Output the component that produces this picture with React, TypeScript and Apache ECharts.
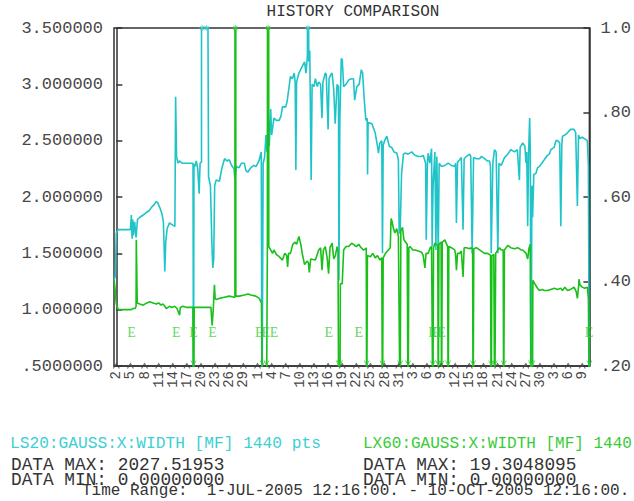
import React, { useEffect, useRef } from "react";
import * as echarts from "echarts";

// x values: days since 2-JUL-2005 00:00 (first tick). Range 1-JUL-2005 12:16 .. 10-OCT-2005 12:16
const X_START = -0.489;
const X_END = 100.511;

const tickDays = [0, 3, 6, 9, 12, 15, 18, 21, 24, 27, 30, 33, 36, 39, 42, 45, 48, 51, 54, 57, 60, 63, 66, 69, 72, 75, 78, 81, 84, 87, 90, 93, 96, 99];

const leftTicks = [0.5, 1.0, 1.5, 2.0, 2.5, 3.0, 3.5];
const rightTicks = [0.2, 0.4, 0.6, 0.8, 1.0];

const ls20: [number, number][] = [
  [-0.45, 1.26], [-0.2, 1.3], [0.0, 1.68], [0.4, 1.71], [1.5, 1.71], [3.0, 1.71], [3.2, 1.84], [3.35, 1.63], [3.5, 1.8], [3.65, 1.66], [3.9, 1.78], [4.2, 1.64], [4.5, 1.8], [5.0, 1.82], [5.7, 1.84], [6.3, 1.86], [7.0, 1.88], [7.5, 1.91], [8.0, 1.93], [8.5, 1.96], [8.8, 1.95], [9.3, 1.9], [9.7, 1.85], [10.0, 1.78], [10.2, 1.5], [10.3, 1.34], [10.5, 1.6], [10.8, 1.72], [11.3, 1.77], [12.0, 1.75], [12.45, 1.74], [12.6, 2.89], [12.8, 2.36], [13.1, 2.3], [13.4, 2.32], [14.0, 2.3], [15.0, 2.3], [16.0, 2.3], [16.3, 2.3], [16.4, 0], [16.5, 2.29], [16.7, 2.27], [17.0, 2.32], [17.3, 2.25], [17.6, 2.03], [17.8, 2.3], [18.1, 2.31], [18.25, 2027.52], [19.2, 6.4], [19.6, 2.18], [20.0, 2.1], [20.3, 1.6], [20.5, 1.37], [20.7, 1.45], [20.9, 2.1], [21.2, 2.15], [21.9, 2.14], [22.4, 2.25], [23.0, 2.34], [23.5, 2.32], [24.0, 2.33], [24.5, 2.28], [25.0, 2.25], [25.2, 2.16], [25.5, 2.27], [26.1, 2.26], [26.6, 2.3], [27.2, 2.3], [27.5, 2.24], [27.9, 2.22], [28.6, 2.26], [29.2, 2.28], [29.7, 2.27], [30.3, 2.32], [30.8, 2.4], [30.95, 0], [31.2, 2.3], [31.5, 2.35], [31.8, 2.55], [32.0, 2.4], [32.3, 2.7], [32.5, 2.45], [32.8, 2.78], [33.0, 2.55], [33.5, 2.7], [34.0, 2.68], [34.6, 2.68], [35.0, 2.72], [35.3, 2.8], [36.0, 2.8], [36.3, 2.85], [37.0, 3.07], [37.4, 3.05], [37.8, 3.1], [38.0, 3.02], [38.15, 2.24], [38.3, 3.02], [38.8, 3.1], [39.5, 3.16], [40.0, 3.2], [40.3, 3.1], [40.6, 3.25], [40.7, 4.8], [40.9, 3.2], [41.1, 3.3], [41.4, 2.15], [41.6, 3.0], [42.0, 2.98], [42.3, 3.05], [42.7, 2.98], [43.0, 3.02], [43.4, 3.0], [43.7, 2.7], [43.9, 3.02], [44.4, 3.1], [44.6, 3.09], [45.0, 2.6], [45.2, 3.05], [45.5, 3.08], [45.85, 3.1], [46.2, 2.95], [46.5, 2.65], [46.9, 3.0], [47.2, 2.98], [47.3, 1.26], [47.5, 2.7], [47.8, 3.23], [48.0, 3.22], [48.3, 2.98], [48.8, 3.0], [49.4, 3.04], [50.0, 3.05], [50.4, 3.05], [50.64, 2.86], [51.1, 2.98], [51.6, 3.0], [52.05, 3.13], [52.33, 3.1], [52.7, 2.85], [53.03, 2.68], [53.3, 2.7], [53.38, 2.2], [53.5, 2.66], [54.3, 2.65], [55.0, 2.57], [55.5, 2.45], [55.7, 2.39], [56.0, 2.48], [56.4, 2.5], [56.55, 1.5], [56.7, 2.46], [57.0, 2.5], [57.47, 2.54], [58.0, 2.45], [58.5, 2.44], [59.0, 2.4], [59.58, 2.39], [59.93, 2.33], [60.1, 1.68], [60.3, 1.68], [60.6, 2.2], [61.0, 2.38], [61.34, 2.39], [62.0, 2.38], [62.75, 2.4], [63.45, 2.37], [64.16, 2.36], [64.86, 2.36], [65.2, 2.37], [65.5, 2.33], [65.71, 2.3], [65.85, 1.62], [66.1, 2.3], [66.27, 2.39], [66.6, 2.3], [66.98, 2.43], [67.1, 1.56], [67.3, 2.1], [67.68, 2.4], [67.9, 1.53], [68.1, 2.36], [68.4, 1.5], [68.6, 2.3], [69.09, 2.27], [69.8, 2.28], [70.5, 2.3], [71.2, 2.28], [71.9, 2.27], [72.1, 2.3], [72.26, 1.77], [72.5, 2.31], [72.96, 2.33], [73.3, 2.35], [73.67, 1.71], [73.9, 2.34], [74.37, 2.36], [75.07, 2.38], [75.3, 2.36], [75.6, 1.5], [75.9, 2.35], [76.48, 2.34], [77.19, 2.34], [77.54, 2.36], [78.24, 2.34], [78.8, 2.32], [79.3, 2.32], [79.5, 2.27], [79.65, 1.5], [80.0, 2.3], [80.35, 2.42], [80.7, 2.4], [81.06, 1.5], [81.3, 2.3], [81.77, 2.28], [82.47, 2.35], [83.17, 2.38], [83.8, 2.42], [84.58, 2.4], [85.2, 2.42], [85.64, 2.15], [85.8, 2.44], [86.34, 2.48], [86.8, 2.45], [87.05, 2.3], [87.2, 2.4], [87.4, 1.74], [87.6, 2.4], [87.82, 2.7], [87.96, 2.4], [88.1, 0], [88.3, 2.1], [88.45, 1.82], [88.7, 2.2], [89.16, 2.21], [89.5, 2.26], [89.86, 2.27], [90.4, 2.3], [90.92, 2.33], [91.6, 2.37], [92.0, 2.38], [92.33, 2.42], [93.03, 2.44], [93.4, 2.5], [93.74, 2.5], [94.2, 2.48], [94.44, 1.74], [94.65, 2.46], [94.8, 2.54], [95.3, 2.55], [95.85, 2.57], [96.5, 2.6], [97.26, 2.6], [97.6, 2.57], [97.96, 1.92], [98.2, 2.55], [98.45, 2.52], [99.0, 2.53], [99.37, 2.52], [100.07, 2.5], [100.3, 2.28], [100.5, 0],
];

const lx60: [number, number][] = [
  [-0.45, 1.26], [-0.3, 1.2], [0.0, 1.05], [0.43, 1.0], [1.5, 1.0], [2.5, 1.0], [3.2, 1.0], [3.5, 1.01], [4.0, 1.01], [4.2, 1.03], [4.25, 1.62], [4.4, 1.62], [4.45, 1.06], [5.0, 1.05], [5.7, 1.04], [6.5, 1.06], [7.1, 1.07], [7.8, 1.06], [8.5, 1.05], [9.0, 1.06], [9.5, 1.04], [9.9, 1.05], [10.3, 1.03], [10.6, 1.01], [11.3, 1.03], [11.8, 1.02], [12.4, 1.03], [12.9, 1.01], [13.45, 0.95], [13.6, 1.02], [14.16, 1.03], [15.0, 1.02], [16.0, 1.02], [16.27, 1.02], [16.4, 0], [16.55, 1.02], [17.5, 1.02], [18.5, 1.02], [19.5, 1.02], [20.1, 1.02], [20.36, 0.86], [20.6, 1.0], [20.85, 1.22], [21.0, 1.1], [21.2, 1.09], [21.9, 1.1], [22.96, 1.11], [24.02, 1.12], [25.0, 1.11], [25.2, 1.11], [25.29, 19.3048], [25.4, 1.12], [26.13, 1.12], [27.19, 1.13], [28.0, 1.14], [28.6, 1.13], [29.65, 1.12], [30.36, 1.1], [30.85, 1.06], [31.1, 0], [31.9, 0], [32.1, 1.6], [32.25, 18.5], [32.4, 1.56], [32.8, 1.53], [33.2, 1.5], [33.5, 1.53], [34.0, 1.49], [34.6, 1.47], [35.3, 1.44], [35.8, 1.5], [36.2, 1.48], [36.4, 1.38], [36.6, 1.5], [37.0, 1.5], [37.5, 1.58], [38.0, 1.6], [38.3, 1.58], [38.8, 1.65], [39.2, 1.58], [39.5, 1.5], [40.0, 1.4], [40.5, 1.43], [40.8, 1.42], [41.0, 1.33], [41.3, 1.45], [42.3, 1.44], [43.0, 1.53], [43.4, 1.55], [43.7, 1.35], [44.0, 1.53], [44.4, 1.56], [44.8, 1.46], [45.1, 1.32], [45.4, 1.55], [45.85, 1.59], [46.2, 1.45], [46.55, 1.48], [46.9, 1.56], [47.1, 1.52], [47.26, 0], [47.5, 0], [47.6, 1.23], [48.0, 1.23], [48.3, 1.53], [48.8, 1.56], [49.37, 1.56], [50.0, 1.59], [50.4, 1.58], [51.0, 1.56], [51.5, 1.58], [52.0, 1.55], [52.5, 1.53], [53.0, 1.54], [53.1, 1.55], [53.2, 0], [53.35, 1.48], [54.0, 1.47], [54.5, 1.5], [55.0, 1.46], [55.5, 1.48], [56.0, 1.44], [56.4, 1.46], [56.55, 0], [56.7, 1.46], [57.2, 1.5], [57.8, 1.53], [58.2, 1.55], [58.38, 1.81], [58.6, 1.78], [58.88, 1.72], [59.2, 1.68], [59.58, 1.72], [59.93, 1.65], [60.3, 0], [60.45, 1.7], [60.8, 1.73], [61.1, 1.62], [61.8, 1.58], [62.0, 0], [62.15, 1.55], [62.4, 1.56], [63.0, 1.53], [63.45, 1.53], [64.16, 1.52], [64.86, 1.51], [65.2, 1.48], [65.57, 1.37], [65.8, 1.5], [66.27, 1.5], [66.7, 1.55], [66.98, 1.56], [67.25, 0], [67.4, 1.55], [67.68, 1.59], [68.3, 1.57], [68.4, 0], [68.55, 1.58], [69.0, 1.6], [69.1, 0], [69.25, 1.6], [69.8, 1.62], [70.2, 1.58], [70.4, 1.56], [70.5, 0], [70.65, 1.56], [71.2, 1.55], [71.9, 1.53], [72.1, 1.48], [72.26, 1.35], [72.5, 1.5], [72.96, 1.5], [73.3, 1.52], [73.67, 1.29], [73.9, 1.55], [74.37, 1.55], [75.07, 1.54], [75.3, 1.55], [75.7, 1.54], [75.8, 0], [75.95, 1.54], [76.5, 1.55], [77.19, 1.53], [77.54, 1.52], [78.24, 1.5], [78.8, 1.5], [79.3, 1.49], [79.5, 1.48], [79.65, 0], [79.8, 1.48], [80.2, 1.49], [80.4, 0], [80.6, 1.5], [81.06, 1.53], [81.4, 1.55], [81.77, 1.53], [82.2, 1.53], [82.3, 0], [82.45, 1.53], [83.17, 1.57], [83.8, 1.55], [84.58, 1.54], [85.3, 1.55], [86.0, 1.53], [86.34, 1.53], [87.05, 1.5], [87.4, 1.45], [87.7, 1.55], [87.96, 1.58], [88.1, 0], [88.4, 0], [88.5, 1.26], [88.9, 1.23], [89.5, 1.19], [89.86, 1.17], [90.5, 1.18], [90.92, 1.17], [91.6, 1.17], [92.3, 1.18], [93.03, 1.19], [93.74, 1.18], [94.4, 1.19], [94.8, 1.17], [95.3, 1.2], [95.85, 1.17], [96.5, 1.18], [97.26, 1.2], [97.7, 1.16], [97.96, 1.1], [98.2, 1.2], [98.31, 1.27], [98.5, 1.22], [99.0, 1.2], [99.5, 1.19], [100.07, 1.2], [100.3, 1.1], [100.5, 0],
];

// event ("E") markers: days, drawn at level 0.8 of the left axis
const eventDays = [3.25, 12.76, 16.41, 20.45, 30.4, 31.77, 33.53, 45.15, 51.49, 67.19, 68.03, 69.08, 100.45];
const EVENT_LEVEL = 0.8;

const Y_MIN = 0.5;
const Y_MAX = 3.5;

const CYAN = "#1fc4c9";
const GREEN = "#19c019";
const CYAN_TEXT = "#3ccfd4";
const GREEN_TEXT = "#38cc38";
const AXIS = "#333333";
const LABEL = "#474747";
const MONO = '"Liberation Mono", "DejaVu Sans Mono", monospace';
const SERIF = '"Liberation Serif", "DejaVu Serif", serif';

function dayLabel(v: number): string {
  const d = new Date(Date.UTC(2005, 6, 2) + Math.round(v) * 86400000);
  return String(d.getUTCDate());
}

function leftLabel(v: number): string {
  if (Math.abs(v - 0.5) < 1e-9) return ".5000000";
  return v.toFixed(6);
}

function rightLabel(v: number): string {
  const n = Math.round(v * 100);
  if (n === 100) return "1.0";
  return "." + String(n);
}

const ASTERISK = "path://M5,0L5,10M0,5L10,5M1.5,1.5L8.5,8.5M8.5,1.5L1.5,8.5";
const CHEVRON_UP = "path://M0,10L5,0L10,10";
const ARROW_DOWN = "path://M0,0L5,10L10,0";

export default function App() {
  const ref = useRef<HTMLDivElement>(null);
  useEffect(() => {
    if (!ref.current) return;
    const chart = echarts.init(ref.current, undefined, { renderer: "svg" });

    const over = (d: [number, number][]) => d.filter((p) => p[1] > Y_MAX).map((p) => [p[0], Y_MAX]);
    const under = (d: [number, number][]) => d.filter((p) => p[1] < Y_MIN).map((p) => [p[0], Y_MIN]);

    const axisLineStyle = { color: AXIS, width: 1.5 };

    chart.setOption({
      animation: false,
      backgroundColor: "#ffffff",
      grid: { left: 114, top: 28, right: 42, bottom: 135, show: true, borderColor: AXIS, borderWidth: 1.5, backgroundColor: "transparent" },
      xAxis: {
        type: "value",
        min: X_START,
        max: X_END,
        axisLine: { show: true, lineStyle: axisLineStyle },
        axisTick: { show: false },
        splitLine: { show: false },
        axisLabel: {
          customValues: tickDays,
          rotate: 90,
          margin: 5,
          fontFamily: MONO,
          fontSize: 14,
          color: LABEL,
          formatter: (v: number) => dayLabel(v),
        },
      },
      yAxis: [
        {
          type: "value",
          min: leftTicks[0],
          max: leftTicks[leftTicks.length - 1],
          interval: 0.5,
          axisLine: { show: true, lineStyle: axisLineStyle },
          axisTick: { show: true, inside: true, length: 6, lineStyle: axisLineStyle },
          splitLine: { show: false },
          axisLabel: { margin: 11, fontFamily: MONO, fontSize: 17, color: LABEL, formatter: leftLabel },
        },
        {
          type: "value",
          position: "right",
          min: rightTicks[0],
          max: rightTicks[rightTicks.length - 1],
          interval: 0.2,
          axisLine: { show: true, lineStyle: axisLineStyle },
          axisTick: { show: true, inside: true, length: 6, lineStyle: axisLineStyle },
          splitLine: { show: false },
          axisLabel: { margin: 11, fontFamily: MONO, fontSize: 17, color: LABEL, formatter: rightLabel },
        },
      ],
      series: [
        {
          name: "LS20",
          type: "line",
          data: ls20,
          showSymbol: false,
          clip: true,
          lineStyle: { color: CYAN, width: 1.6 },
          z: 2,
        },
        {
          name: "LX60",
          type: "line",
          data: lx60,
          showSymbol: false,
          clip: true,
          lineStyle: { color: GREEN, width: 1.6 },
          z: 3,
        },
        {
          type: "scatter",
          data: over(ls20),
          symbol: ASTERISK,
          symbolSize: 6,
          itemStyle: { color: "transparent", borderColor: CYAN_TEXT, borderWidth: 1 },
          clip: false,
          z: 4,
        },
        {
          type: "scatter",
          data: over(lx60),
          symbol: ASTERISK,
          symbolSize: 6,
          itemStyle: { color: "transparent", borderColor: GREEN_TEXT, borderWidth: 1 },
          clip: false,
          z: 4,
        },
        {
          type: "scatter",
          data: under(lx60),
          symbol: ARROW_DOWN,
          symbolSize: [5, 5],
          symbolOffset: [0, -3],
          itemStyle: { color: "transparent", borderColor: GREEN_TEXT, borderWidth: 1 },
          clip: false,
          z: 4,
        },
        {
          type: "scatter",
          data: tickDays.map((t) => [t, Y_MIN]),
          symbol: CHEVRON_UP,
          symbolSize: [6, 5],
          itemStyle: { color: "transparent", borderColor: LABEL, borderWidth: 1 },
          clip: false,
          z: 5,
        },
        {
          type: "scatter",
          data: eventDays.map((t) => [t, EVENT_LEVEL]),
          symbolSize: 1,
          itemStyle: { color: "transparent" },
          label: {
            show: true,
            position: "inside",
            formatter: "E",
            color: GREEN_TEXT,
            fontFamily: SERIF,
            fontSize: 14,
          },
          z: 6,
        },
      ],
      graphic: [
        { type: "text", x: 353, y: 12, style: { text: "HISTORY COMPARISON", fill: AXIS, fontFamily: MONO, fontSize: 16, align: "center", verticalAlign: "middle" } },
        { type: "text", x: 10, y: 444, style: { text: "LS20:GAUSS:X:WIDTH [MF] 1440 pts", fill: CYAN_TEXT, fontFamily: MONO, fontSize: 16.2, align: "left", verticalAlign: "middle" } },
        { type: "text", x: 363, y: 444, style: { text: "LX60:GAUSS:X:WIDTH [MF] 1440", fill: GREEN_TEXT, fontFamily: MONO, fontSize: 16, align: "left", verticalAlign: "middle" } },
        { type: "text", x: 11, y: 465, style: { text: "DATA MAX: 2027.51953", fill: AXIS, fontFamily: MONO, fontSize: 17.8, align: "left", verticalAlign: "middle" } },
        { type: "text", x: 11, y: 480, style: { text: "DATA MIN: 0.00000000", fill: AXIS, fontFamily: MONO, fontSize: 17.8, align: "left", verticalAlign: "middle" } },
        { type: "text", x: 363, y: 465, style: { text: "DATA MAX: 19.3048095", fill: AXIS, fontFamily: MONO, fontSize: 17.8, align: "left", verticalAlign: "middle" } },
        { type: "text", x: 363, y: 480, style: { text: "DATA MIN: 0.00000000", fill: AXIS, fontFamily: MONO, fontSize: 17.8, align: "left", verticalAlign: "middle" } },
        { type: "text", x: 82, y: 491, style: { text: "Time Range:  1-JUL-2005 12:16:00. - 10-OCT-2005 12:16:00.", fill: AXIS, fontFamily: MONO, fontSize: 16, align: "left", verticalAlign: "middle" } },
      ],
    });
    return () => chart.dispose();
  }, []);
  return <div ref={ref} style={{ position: "fixed", left: 0, top: 0, width: 634, height: 501, background: "#fff" }} />;
}
